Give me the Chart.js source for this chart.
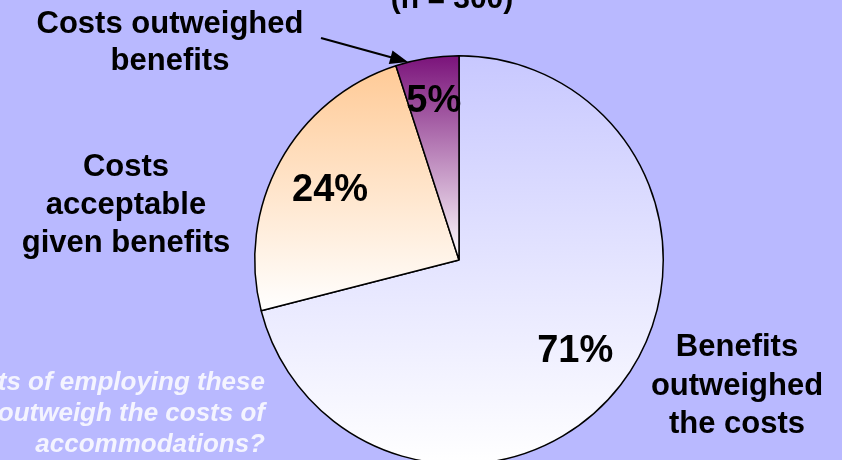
<!DOCTYPE html>
<html>
<head>
<meta charset="utf-8">
<script src="https://cdn.jsdelivr.net/npm/chart.js@4.4.0/dist/chart.umd.min.js"></script>
<style>
    html, body { margin: 0; padding: 0; background: #B9B9FF; overflow: hidden; }
    #wrap { width: 842px; height: 520px; position: relative; }
</style>
</head>
<body>
<div id="wrap"><canvas id="pieChart" width="842" height="520"></canvas></div>
<script>
const categories = ['Benefits outweighed the costs', 'Costs acceptable given benefits', 'Costs outweighed benefits'];
const shares = [71, 24, 5];
const percentLabels = ['71%', '24%', '5%'];
const topColors = ['#C8C8FF', '#FFCA96', '#7A127A'];

const FONT = '"Liberation Sans", Arial, sans-serif';

// vertical gradient per slice, from its highest to its lowest point
function sliceGradient(context) {
    const chart = context.chart;
    const area = chart.chartArea;
    const i = context.dataIndex;
    if (!area) return topColors[i];
    const cx = (area.left + area.right) / 2;
    const cy = (area.top + area.bottom) / 2;
    const r = Math.min(area.right - area.left, area.bottom - area.top) / 2;
    const total = shares.reduce((a, b) => a + b, 0);
    let start = 0;
    for (let k = 0; k < i; k++) start += shares[k] / total * Math.PI * 2;
    const end = start + shares[i] / total * Math.PI * 2;
    let yMin = cy, yMax = cy;
    for (let a = start; a <= end + 1e-9; a += 0.005) {
        const y = cy - r * Math.cos(a);
        yMin = Math.min(yMin, y);
        yMax = Math.max(yMax, y);
    }
    const g = chart.ctx.createLinearGradient(cx, yMin, cx, yMax);
    g.addColorStop(0, topColors[i]);
    g.addColorStop(1, '#FFFFFF');
    return g;
}

const labelRadius = [0.72, 0.72, 0.79];

const textPlugin = {
    id: 'texts',
    afterDatasetsDraw(chart) {
        const ctx = chart.ctx;
        const meta = chart.getDatasetMeta(0);
        ctx.save();
        ctx.fillStyle = '#000';
        ctx.textAlign = 'center';
        ctx.textBaseline = 'middle';
        ctx.font = 'bold 38px ' + FONT;
        meta.data.forEach((arc, i) => {
            const p = arc.getProps(['x', 'y', 'startAngle', 'endAngle', 'outerRadius'], true);
            const mid = (p.startAngle + p.endAngle) / 2;
            const d = p.outerRadius * labelRadius[i];
            ctx.fillText(percentLabels[i], p.x + Math.cos(mid) * d, p.y + Math.sin(mid) * d + 1);
        });

        // category labels
        ctx.font = 'bold 31px ' + FONT;
        ctx.textBaseline = 'alphabetic';
        const lines = [
            [['Benefits', 'outweighed', 'the costs'], 737, 356, 38.5],
            [['Costs', 'acceptable', 'given benefits'], 126, 176, 38],
            [['Costs outweighed', 'benefits'], 170, 33, 37]
        ];
        lines.forEach(([txt, x, y, lh]) => {
            txt.forEach((t, k) => ctx.fillText(t, x, y + k * lh));
        });

        // clipped heading
        ctx.font = 'bold 30px ' + FONT;
        ctx.fillText('(n = 300)', 452, 8);

        // arrow to the small slice
        const x1 = 321, y1 = 38, x2 = 408, y2 = 62;
        const ang = Math.atan2(y2 - y1, x2 - x1);
        ctx.strokeStyle = '#000';
        ctx.lineWidth = 2.2;
        ctx.beginPath();
        ctx.moveTo(x1, y1);
        ctx.lineTo(x2 - Math.cos(ang) * 14, y2 - Math.sin(ang) * 14);
        ctx.stroke();
        ctx.beginPath();
        ctx.moveTo(x2, y2);
        ctx.lineTo(x2 - Math.cos(ang) * 18 - Math.sin(ang) * 7, y2 - Math.sin(ang) * 18 + Math.cos(ang) * 7);
        ctx.lineTo(x2 - Math.cos(ang) * 18 + Math.sin(ang) * 7, y2 - Math.sin(ang) * 18 - Math.cos(ang) * 7);
        ctx.closePath();
        ctx.fill();

        // question, white italic, partly off the left edge
        ctx.fillStyle = '#F4F4FF';
        ctx.textAlign = 'right';
        ctx.font = 'italic bold 26px ' + FONT;
        ['Did the benefits of employing these', 'individuals outweigh the costs of', 'accommodations?']
            .forEach((t, k) => ctx.fillText(t, 265, 390 + k * 31));
        ctx.restore();
    }
};

const ctx = document.getElementById('pieChart').getContext('2d');
new Chart(ctx, {
    type: 'pie',
    data: {
        labels: categories,
        datasets: [{
            data: shares,
            backgroundColor: sliceGradient,
            borderColor: '#000',
            borderWidth: 1.5,
        }],
    },
    options: {
        responsive: false,
        animation: false,
        layout: { padding: { top: 55, bottom: 55, left: 76, right: 0 } },
        plugins: {
            legend: { display: false },
            tooltip: { enabled: false },
        },
    },
    plugins: [textPlugin],
});
</script>
</body>
</html>
